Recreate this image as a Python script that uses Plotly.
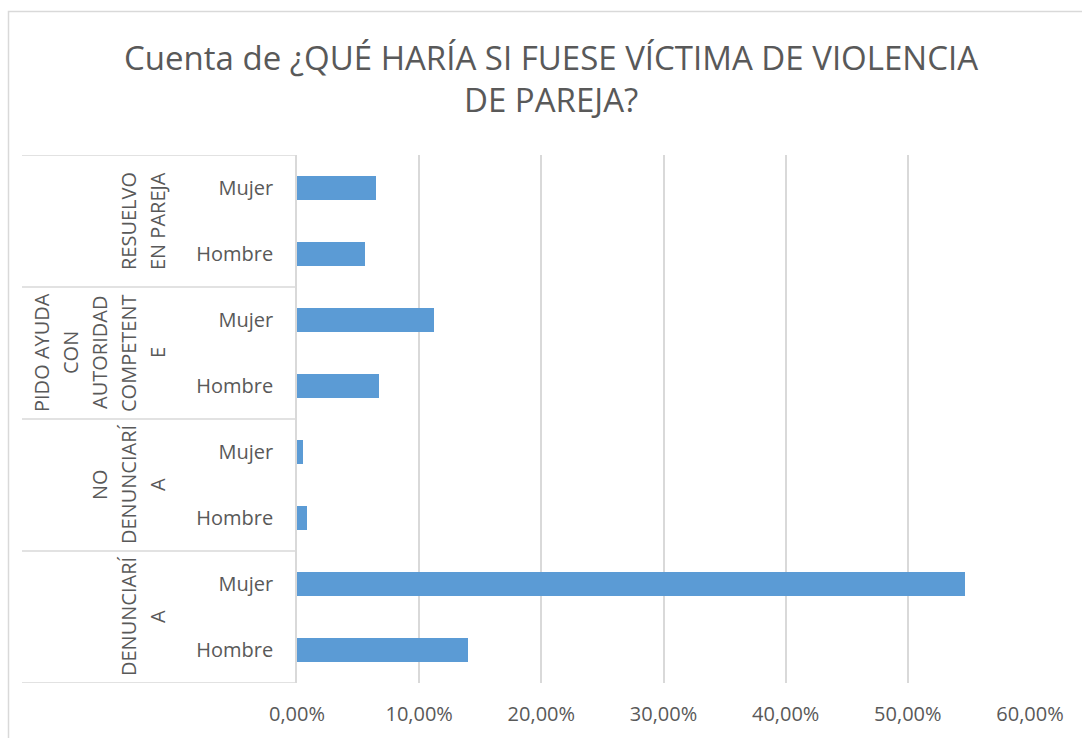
import plotly.graph_objects as go

# Data, listed bottom to top as plotly draws them
groups = ["DENUNCIARÍA", "NO DENUNCIARÍA", "PIDO AYUDA CON AUTORIDAD COMPETENTE", "RESUELVO EN PAREJA"]
group_lines = [
    ["DENUNCIARÍ", "A"],
    ["NO", "DENUNCIARÍ", "A"],
    ["PIDO AYUDA", "CON", "AUTORIDAD", "COMPETENT", "E"],
    ["RESUELVO", "EN PAREJA"],
]
genders = ["Hombre", "Mujer"]
values = [
    [0.1400, 0.5465],   # DENUNCIARÍA
    [0.0079, 0.0052],   # NO DENUNCIARÍA
    [0.0671, 0.1119],   # PIDO AYUDA CON AUTORIDAD COMPETENTE
    [0.0559, 0.0644],   # RESUELVO EN PAREJA
]
x_ticks = [0, 0.1, 0.2, 0.3, 0.4, 0.5, 0.6]
title_lines = ["Cuenta de ¿QUÉ HARÍA SI FUESE VÍCTIMA DE VIOLENCIA", "DE PAREJA?"]

TEXT = "#595959"
GRID = "#d9d9d9"
BAR = "#5b9bd5"
FONT = "Open Sans"

W, H = 1082, 738
PL, PR, PT, PB = 297, 1030, 155, 683   # plot area in pixels


def px_x(p):
    return (p - PL) / (PR - PL)


def px_y(p):
    return (PB - p) / (PB - PT)


ys, xs, labels = [], [], []
for gi, g in enumerate(groups):
    for si, s in enumerate(genders):
        ys.append(gi * 2 + si)
        xs.append(values[gi][si])
        labels.append(s)

fig = go.Figure()
fig.add_trace(
    go.Bar(
        x=xs,
        y=ys,
        orientation="h",
        width=0.35,
        marker={"color": BAR, "line": {"width": 0}},
        hovertext=[f"{groups[y // 2]} - {l}" for y, l in zip(ys, labels)],
        showlegend=False,
    )
)

annotations = []
shapes = []

# title, one annotation per line so the spacing matches
for i, (txt, py) in enumerate(zip(title_lines, [57, 100])):
    annotations.append(dict(
        text=txt, x=px_x(551), xref="paper", xanchor="center",
        y=px_y(py), yref="paper", yanchor="middle", showarrow=False,
        font={"family": FONT, "size": 33, "color": TEXT},
    ))

# group labels (rotated, wrapped like Excel) and the divider lines
line_gap = 29
for gi, lines in enumerate(group_lines):
    n = len(lines)
    for li, txt in enumerate(lines):
        cx = 157 - (n - 1 - li) * line_gap
        annotations.append(dict(
            text=txt, x=px_x(cx), xref="paper", xanchor="center",
            y=gi * 2 + 0.5, yref="y", yanchor="middle",
            textangle=-90, showarrow=False,
            font={"family": FONT, "size": 20, "color": TEXT},
        ))
for b in range(len(groups) + 1):
    shapes.append(dict(
        type="line", xref="paper", yref="y",
        x0=px_x(22), x1=0, y0=b * 2 - 0.5, y1=b * 2 - 0.5,
        line={"color": GRID, "width": 1.5},
    ))

# outer chart border
shapes.append(dict(
    type="rect", xref="paper", yref="paper",
    x0=px_x(8.5), x1=px_x(1100), y0=px_y(11.5), y1=px_y(760),
    line={"color": GRID, "width": 1.5}, layer="below",
))

fig.update_layout(
    width=W, height=H,
    margin={"l": PL, "r": W - PR, "t": PT, "b": H - PB},
    paper_bgcolor="white", plot_bgcolor="white",
    separators=",.",
    font={"family": FONT, "color": TEXT},
    xaxis={
        "range": [0, 0.6],
        "tickvals": x_ticks,
        "tickformat": ".2%",
        "showgrid": True, "gridcolor": GRID, "gridwidth": 1.5,
        "zeroline": False, "showline": False,
        "ticks": "", "ticklabelstandoff": 17,
        "tickfont": {"family": FONT, "size": 20, "color": TEXT},
        "fixedrange": True,
    },
    yaxis={
        "range": [-0.5, 7.5],
        "tickvals": ys,
        "ticktext": labels,
        "showgrid": False, "zeroline": False,
        "showline": True, "linecolor": GRID, "linewidth": 1.5,
        "ticks": "", "ticklabelstandoff": 18,
        "tickfont": {"family": FONT, "size": 20, "color": TEXT},
        "fixedrange": True,
    },
    annotations=annotations,
    shapes=shapes,
    bargap=0,
)

fig.write_html(
    "out.html",
    config={"displayModeBar": False},
    post_script=(
        "document.body.style.margin = '0';"
        "document.body.style.overflow = 'hidden';"
        "document.documentElement.style.overflow = 'hidden';"
    ),
)
